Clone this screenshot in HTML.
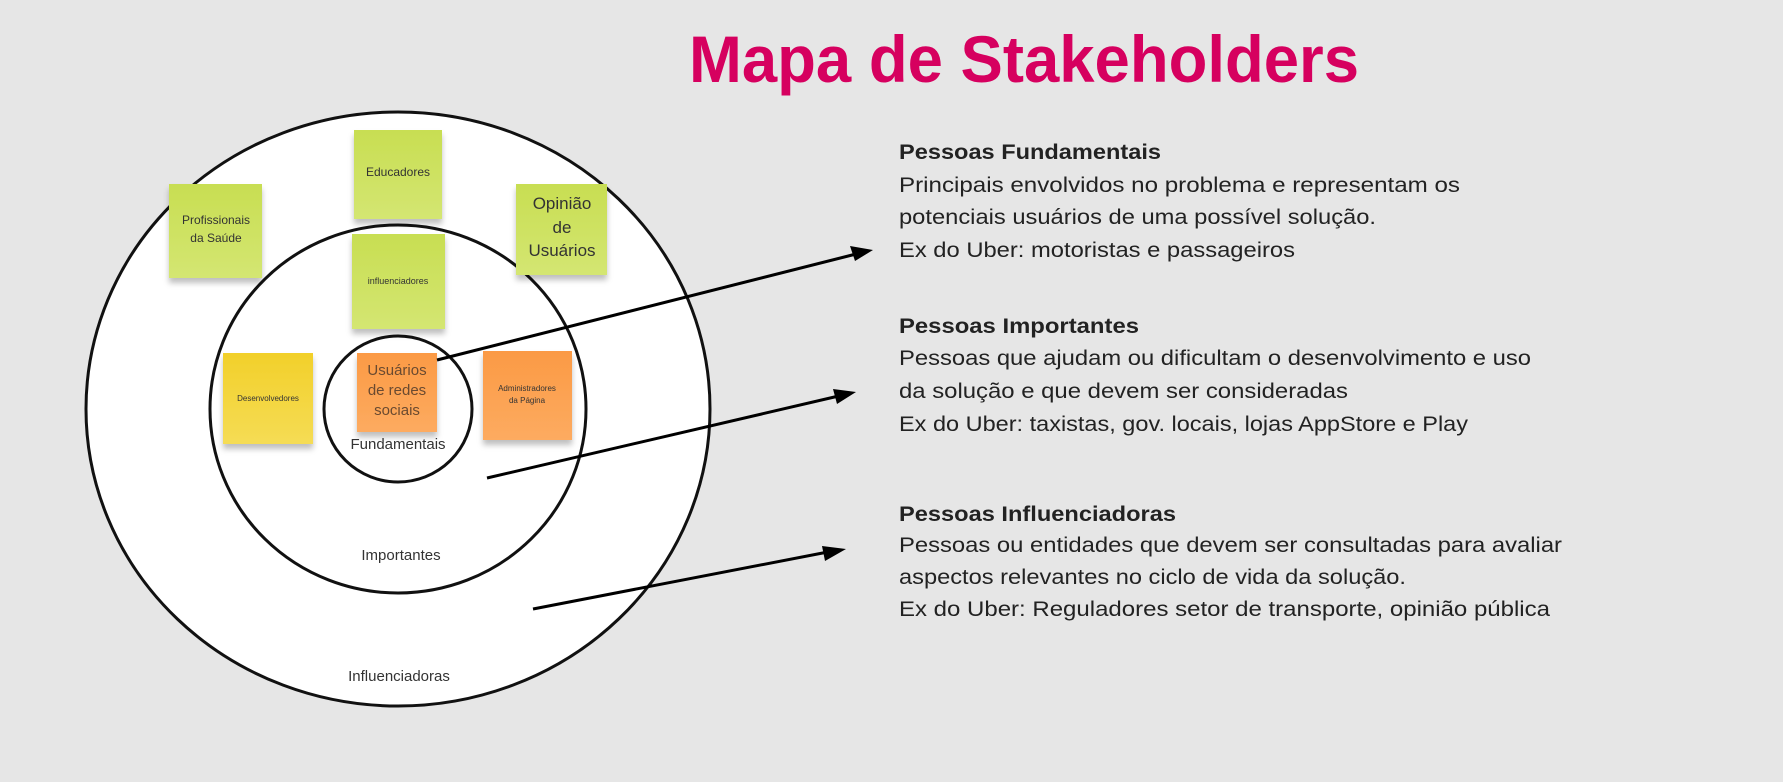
<!DOCTYPE html>
<html><head><meta charset="utf-8"><style>
html,body{margin:0;padding:0;background:#e6e6e6;}
svg{display:block;font-family:"Liberation Sans",sans-serif;}
</style></head><body>
<svg width="1783" height="782" viewBox="0 0 1783 782" xmlns="http://www.w3.org/2000/svg">
<defs>
<linearGradient id="g" x1="0" y1="0" x2="0" y2="1"><stop offset="0" stop-color="#c8de52"/><stop offset="1" stop-color="#d4e672"/></linearGradient>
<linearGradient id="y" x1="0" y1="0" x2="0" y2="1"><stop offset="0" stop-color="#f2d02a"/><stop offset="1" stop-color="#f5dc55"/></linearGradient>
<linearGradient id="o" x1="0" y1="0" x2="0" y2="1"><stop offset="0" stop-color="#fb9a45"/><stop offset="1" stop-color="#fdab60"/></linearGradient>
<filter id="sh" x="-20%" y="-20%" width="140%" height="150%"><feDropShadow dx="0" dy="5" stdDeviation="3" flood-color="#000" flood-opacity="0.25"/></filter>
<marker id="ah" markerWidth="10" markerHeight="8" refX="9" refY="4" orient="auto" markerUnits="userSpaceOnUse"><path d="M0,0 L18,4 L0,8 Z" transform="scale(1)"/></marker>
</defs>
<rect width="1783" height="782" fill="#e6e6e6"/>
<text x="1024" y="82" text-anchor="middle" font-size="66" font-weight="bold" fill="#d6005f" textLength="670" lengthAdjust="spacingAndGlyphs">Mapa de Stakeholders</text>

<ellipse cx="398" cy="409" rx="312" ry="297" fill="#fff" stroke="#111" stroke-width="3"/>
<ellipse cx="398" cy="409" rx="188" ry="184" fill="#fff" stroke="#111" stroke-width="3"/>
<ellipse cx="398" cy="409" rx="74" ry="73" fill="#fff" stroke="#111" stroke-width="3"/>

<g filter="url(#sh)">
<rect x="169" y="184" width="93" height="94" fill="url(#g)"/>
<rect x="354" y="130" width="88" height="89" fill="url(#g)"/>
<rect x="516" y="184" width="91" height="91" fill="url(#g)"/>
<rect x="352" y="234" width="93" height="95" fill="url(#g)"/>
<rect x="223" y="353" width="90" height="91" fill="url(#y)"/>
<rect x="357" y="353" width="80" height="79" fill="url(#o)"/>
<rect x="483" y="351" width="89" height="89" fill="url(#o)"/>
</g>
<g fill="#333" text-anchor="middle">
<text x="216" y="224" font-size="12">Profissionais</text>
<text x="216" y="242" font-size="12">da Saúde</text>
<text x="398" y="176" font-size="12">Educadores</text>
<text x="562" y="209" font-size="17">Opinião</text>
<text x="562" y="233" font-size="17">de</text>
<text x="562" y="256" font-size="17">Usuários</text>
<text x="398" y="284" font-size="9">influenciadores</text>
<text x="268" y="401" font-size="8">Desenvolvedores</text>
<text x="527" y="391" font-size="8">Administradores</text>
<text x="527" y="403" font-size="8">da Página</text>
</g>
<g fill="#6a4a30" text-anchor="middle" font-size="15">
<text x="397" y="375">Usuários</text>
<text x="397" y="395">de redes</text>
<text x="397" y="415">sociais</text>
</g>
<g fill="#333" text-anchor="middle" font-size="15">
<text x="398" y="449">Fundamentais</text>
<text x="401" y="560">Importantes</text>
<text x="399" y="681">Influenciadoras</text>
</g>

<g stroke="#000" stroke-width="3">
<line x1="437" y1="360" x2="860" y2="253"/>
<line x1="487" y1="478" x2="843" y2="395"/>
<line x1="533" y1="609" x2="833" y2="551"/>
</g>
<polygon points="873,250 850,246 855,261" fill="#000"/>
<polygon points="856,392 833,389 837,404" fill="#000"/>
<polygon points="846,549 822,546 825,561" fill="#000"/>

<g fill="#222" font-size="21">
<text x="899" y="159" font-weight="bold" textLength="262" lengthAdjust="spacingAndGlyphs">Pessoas Fundamentais</text>
<text x="899" y="192" textLength="561" lengthAdjust="spacingAndGlyphs">Principais envolvidos no problema e representam os</text>
<text x="899" y="224" textLength="477" lengthAdjust="spacingAndGlyphs">potenciais usuários de uma possível solução.</text>
<text x="899" y="257" textLength="396" lengthAdjust="spacingAndGlyphs">Ex do Uber: motoristas e passageiros</text>

<text x="899" y="333" font-weight="bold" textLength="240" lengthAdjust="spacingAndGlyphs">Pessoas Importantes</text>
<text x="899" y="365" textLength="632" lengthAdjust="spacingAndGlyphs">Pessoas que ajudam ou dificultam o desenvolvimento e uso</text>
<text x="899" y="398" textLength="449" lengthAdjust="spacingAndGlyphs">da solução e que devem ser consideradas</text>
<text x="899" y="431" textLength="569" lengthAdjust="spacingAndGlyphs">Ex do Uber: taxistas, gov. locais, lojas AppStore e Play</text>

<text x="899" y="521" font-weight="bold" textLength="277" lengthAdjust="spacingAndGlyphs">Pessoas Influenciadoras</text>
<text x="899" y="552" textLength="663" lengthAdjust="spacingAndGlyphs">Pessoas ou entidades que devem ser consultadas para avaliar</text>
<text x="899" y="584" textLength="507" lengthAdjust="spacingAndGlyphs">aspectos relevantes no ciclo de vida da solução.</text>
<text x="899" y="616" textLength="651" lengthAdjust="spacingAndGlyphs">Ex do Uber: Reguladores setor de transporte, opinião pública</text>
</g>
</svg>
</body></html>
